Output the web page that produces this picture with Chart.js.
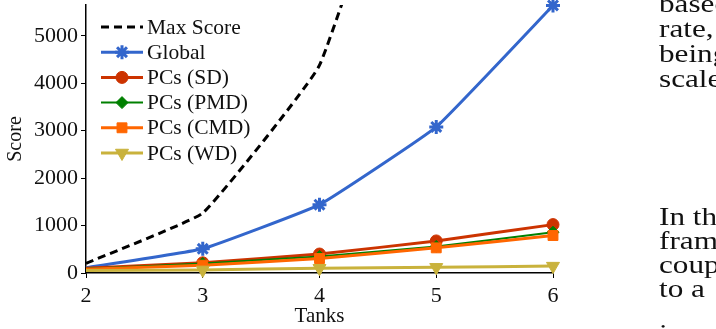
<!DOCTYPE html>
<html>
<head>
<meta charset="utf-8">
<script src="https://cdn.jsdelivr.net/npm/chart.js@4"></script>
<style>
  html, body { margin: 0; padding: 0; background: #fff; }
  #wrap { position: relative; width: 716px; height: 329px; overflow: hidden; }
  #myChart { position: absolute; left: 0; top: 0; }
  .side { position: absolute; left: 659px; width: 57px; overflow: hidden;
          font-family: "Liberation Serif", serif; font-size: 26px; line-height: 24px;
          color: #111; white-space: nowrap; }
  .side div { transform: scaleX(1.2); transform-origin: left center; }
</style>
</head>
<body>
<div id="wrap">
  <canvas id="myChart" width="716" height="329"></canvas>
  <div class="side" style="top:-9px; line-height:25px;">
    <div>based on</div><div>rate, and</div><div>being</div><div>scales</div>
  </div>
  <div class="side" style="top:205px;">
    <div>In this</div><div>framework</div><div>couple</div><div>to a</div>
  </div>
  <div class="side" style="top:322px;">
    <div>in</div>
  </div>
</div>
<script>
// Datos del gráfico
const tanks = [2, 3, 4, 5, 6];
const yTicks = [0, 1000, 2000, 3000, 4000, 5000];

const maxScore = [205, 1265, 4380, 12000, 30000];
const globalScore = [110, 510, 1440, 3080, 5640];
const pcsSD = [100, 215, 400, 676, 1020];
const pcsPMD = [90, 200, 350, 560, 860];
const pcsCMD = [80, 165, 305, 530, 790];
const pcsWD = [55, 65, 100, 120, 145];

const serif = '"Liberation Serif", "Times New Roman", serif';

function toPoints(values) {
    return tanks.map((t, i) => ({ x: t, y: values[i] }));
}

// sin marcador en el primer punto (queda sobre el eje)
function radii(r) {
    return tanks.map((t, i) => (i === 0 ? 0 : r));
}

function makeSet(label, values, color, style, radius, order, extra) {
    return Object.assign({
        label: label,
        data: toPoints(values),
        borderColor: color,
        backgroundColor: color,
        pointBackgroundColor: color,
        pointBorderColor: color,
        pointStyle: style,
        pointRadius: radii(radius),
        legendRadius: radius,
        pointBorderWidth: 1,
        borderWidth: 3,
        tension: 0.1,
        clip: false,
        order: order
    }, extra || {});
}

const datasets = [
    makeSet('Max Score', maxScore, '#000000', false, 0, 6, { borderDash: [8, 5], clip: 0 }),
    makeSet('Global', globalScore, '#3366cc', 'star', 7, 5, { pointBorderWidth: 3 }),
    makeSet('PCs (SD)', pcsSD, '#cc3300', 'circle', 6, 4),
    makeSet('PCs (PMD)', pcsPMD, '#008000', 'rectRot', 6, 3, { borderWidth: 2 }),
    makeSet('PCs (CMD)', pcsCMD, '#ff6600', 'rect', 7, 2),
    makeSet('PCs (WD)', pcsWD, '#c9b23c', 'triangle', 7.5, 1, { pointRotation: 180 })
];

// Leyenda dibujada dentro del área del gráfico
const insideLegend = {
    id: 'insideLegend',
    afterDraw(chart) {
        const ctx = chart.ctx;
        const x0 = 101, x1 = 143, tx = 147;
        ctx.save();
        chart.data.datasets.forEach((ds, i) => {
            const y = 27 + i * 25.2;
            ctx.strokeStyle = ds.borderColor;
            ctx.fillStyle = ds.backgroundColor;
            ctx.lineWidth = ds.borderWidth;
            ctx.setLineDash(ds.borderDash || []);
            ctx.beginPath();
            ctx.moveTo(x0, y);
            ctx.lineTo(x1, y);
            ctx.stroke();
            ctx.setLineDash([]);
            if (ds.pointStyle) {
                ctx.lineWidth = ds.pointBorderWidth;
                Chart.helpers.drawPoint(ctx, {
                    pointStyle: ds.pointStyle,
                    radius: ds.legendRadius,
                    borderWidth: ds.pointBorderWidth,
                    rotation: ds.pointRotation || 0
                }, (x0 + x1) / 2, y);
            }
            ctx.fillStyle = '#111';
            ctx.font = '21.5px ' + serif;
            ctx.textBaseline = 'middle';
            ctx.textAlign = 'left';
            ctx.fillText(ds.label, tx, y + 1);
        });
        ctx.restore();
    }
};

const ctx = document.getElementById('myChart').getContext('2d');
let myChart = new Chart(ctx, {
    type: 'line',
    data: { datasets: datasets },
    plugins: [insideLegend],
    options: {
        responsive: false,
        animation: false,
        layout: { autoPadding: false, padding: { left: 0, top: 5, right: 163, bottom: 0 } },
        plugins: {
            legend: { display: false },
            tooltip: { enabled: false }
        },
        scales: {
            x: {
                type: 'linear',
                min: 2,
                max: 6,
                afterBuildTicks: s => { s.ticks = tanks.map(v => ({ value: v })); },
                afterFit: s => { s.height = 56; s.paddingLeft = 0; s.paddingRight = 0; },
                grid: { display: true, drawOnChartArea: false, drawTicks: true, tickLength: 5, color: '#000', lineWidth: 1 },
                border: { display: true, color: '#000', width: 1.5 },
                ticks: { color: '#111', font: { family: serif, size: 22 }, padding: 5, maxRotation: 0,
                         callback: v => String(v) },
                title: { display: true, text: 'Tanks', color: '#111', font: { family: serif, size: 21 }, padding: { top: 0, bottom: 0 } }
            },
            y: {
                min: 0,
                max: 5650,
                afterBuildTicks: s => { s.ticks = yTicks.map(v => ({ value: v })); },
                afterFit: s => { s.width = 86; s.paddingTop = 0; s.paddingBottom = 0; },
                grid: { display: true, drawOnChartArea: false, drawTicks: true, tickLength: 5, color: '#000', lineWidth: 1 },
                border: { display: true, color: '#000', width: 1.5 },
                ticks: { color: '#111', font: { family: serif, size: 22 }, padding: 3,
                         callback: v => String(v) },
                title: { display: true, text: 'Score', color: '#111', font: { family: serif, size: 20 }, padding: { top: 4, bottom: 0 } }
            }
        }
    }
});
</script>
</body>
</html>
